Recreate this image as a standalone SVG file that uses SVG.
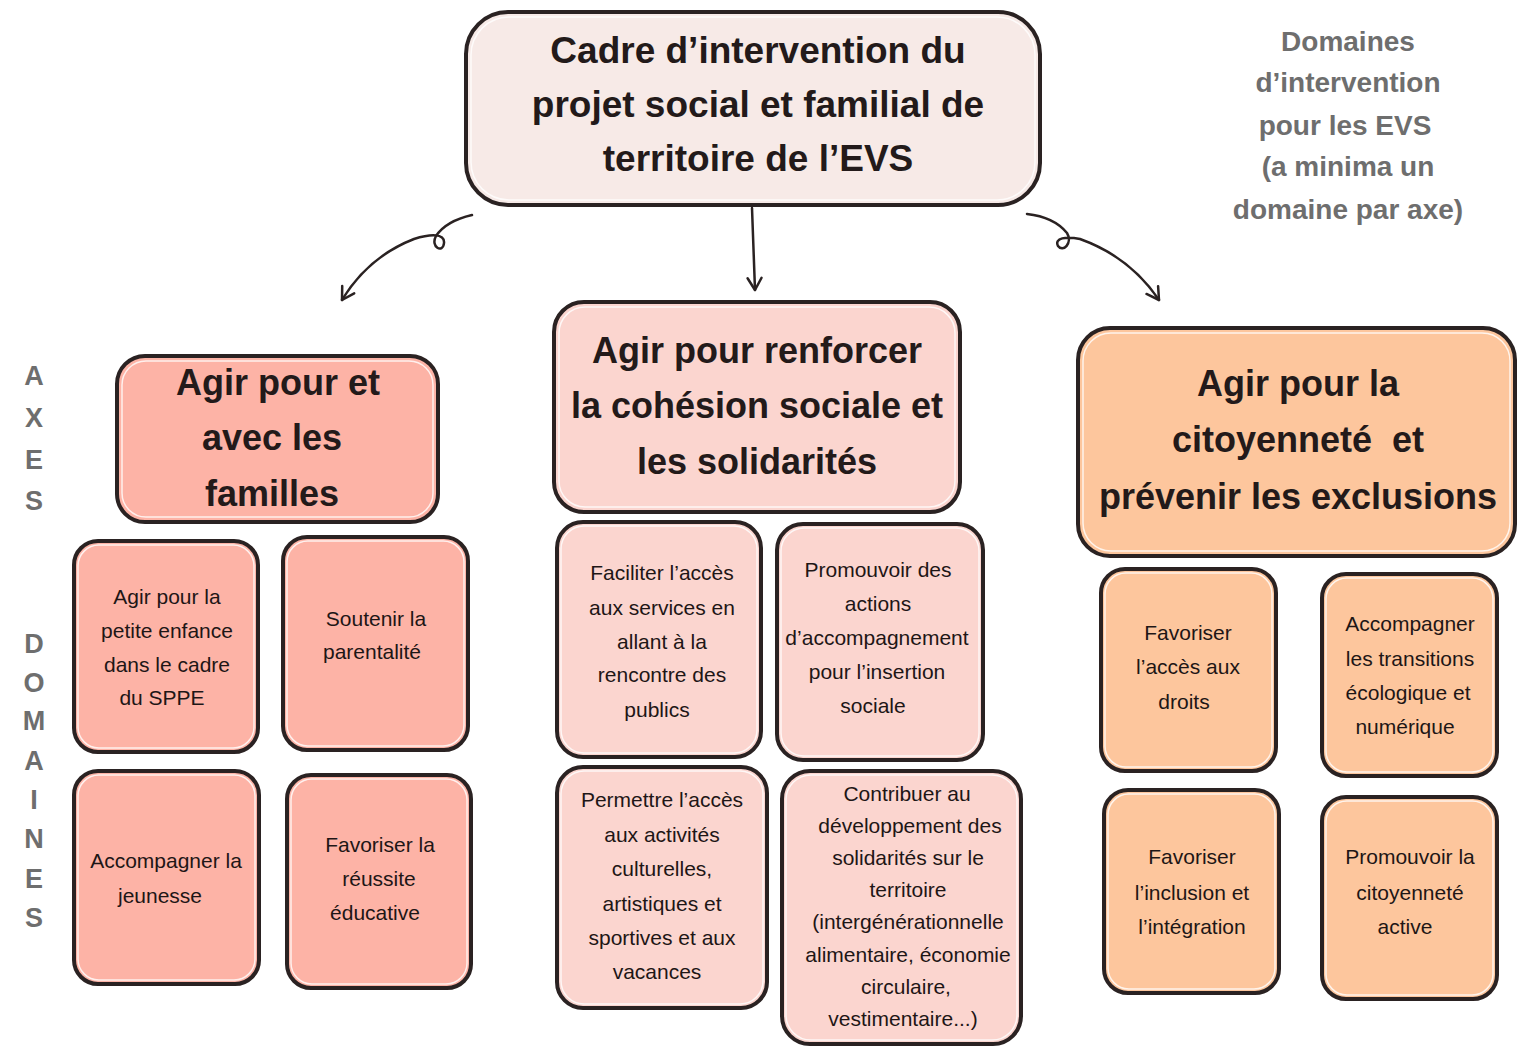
<svg xmlns="http://www.w3.org/2000/svg" width="1522" height="1046" viewBox="0 0 1522 1046">
<style>
.box{stroke:#2a2222;stroke-width:4}
.hl{fill:none;stroke:#ffffff;stroke-width:1.5;opacity:0.8}
.top{fill:#f7eae7}
.fam{fill:#fdb3a6}
.coh{fill:#fbd5cf}
.cit{fill:#fdc69d}
.h{font-family:"Liberation Sans",Arial,sans-serif;font-weight:bold;fill:#231a1a;text-anchor:middle}
.d{font-family:"Liberation Sans",Arial,sans-serif;fill:#1e1616;text-anchor:middle;font-size:21px}
.g{font-family:"Liberation Sans",Arial,sans-serif;font-weight:bold;fill:#6e6e6e;text-anchor:middle}
.conn{fill:none;stroke:#2a2222;stroke-width:2.5;stroke-linecap:round}
</style>
<defs>
<marker id="arr" viewBox="0 0 20 20" refX="16" refY="10" markerWidth="20" markerHeight="20" markerUnits="userSpaceOnUse" orient="auto">
<path d="M4,3 L16,10 L4,17" fill="none" stroke="#2a2222" stroke-width="2.5" stroke-linecap="round" stroke-linejoin="round"/>
</marker>
</defs>
<rect width="1522" height="1046" fill="#ffffff"/>

<g id="connectors">
<path class="conn" marker-end="url(#arr)" d="M472,215 Q446,221 436,236 C430,247 443,254 444,243 C445,233 430,234 414,239 Q368,257 342,300"/>
<path class="conn" marker-end="url(#arr)" d="M752,208 L755,290"/>
<path class="conn" marker-end="url(#arr)" d="M1027,214 Q1054,217 1067,233 C1073,243 1063,253 1058,246 C1054,238 1066,236 1080,239 Q1130,257 1159,300"/>
</g>

<g id="top">
<rect class="box top" x="466" y="12" width="574" height="193" rx="42"/>
<rect class="hl" x="471" y="17" width="564" height="183" rx="38"/>
<text class="h" font-size="37" x="758" y="63">Cadre d’intervention du</text>
<text class="h" font-size="37" x="758" y="117">projet social et familial de</text>
<text class="h" font-size="37" x="758" y="171">territoire de l’EVS</text>
</g>

<g id="note">
<text class="g" font-size="28" x="1348" y="51">Domaines</text>
<text class="g" font-size="28" x="1348" y="92">d’intervention</text>
<text class="g" font-size="28" x="1345" y="135">pour les EVS</text>
<text class="g" font-size="28" x="1348" y="176">(a minima un</text>
<text class="g" font-size="28" x="1348" y="219">domaine par axe)</text>
</g>

<g id="label-axes">
<text class="g" font-size="27" x="34" y="385">A</text>
<text class="g" font-size="27" x="34" y="427">X</text>
<text class="g" font-size="27" x="34" y="469">E</text>
<text class="g" font-size="27" x="34" y="510">S</text>
</g>
<g id="label-domaines">
<text class="g" font-size="27" x="34" y="653">D</text>
<text class="g" font-size="27" x="34" y="692">O</text>
<text class="g" font-size="27" x="34" y="730">M</text>
<text class="g" font-size="27" x="34" y="770">A</text>
<text class="g" font-size="27" x="34" y="809">I</text>
<text class="g" font-size="27" x="34" y="848">N</text>
<text class="g" font-size="27" x="34" y="888">E</text>
<text class="g" font-size="27" x="34" y="927">S</text>
</g>

<g id="axe-familles">
<rect class="box fam" x="117" y="356" width="321" height="166" rx="28"/>
<rect class="hl" x="122" y="361" width="311" height="156" rx="24"/>
<text class="h" font-size="36" x="278" y="395">Agir pour et</text>
<text class="h" font-size="36" x="272" y="450">avec les</text>
<text class="h" font-size="36" x="272" y="506">familles</text>
</g>

<g id="axe-cohesion">
<rect class="box coh" x="554" y="302" width="406" height="210" rx="30"/>
<rect class="hl" x="559" y="307" width="396" height="200" rx="26"/>
<text class="h" font-size="36" x="757" y="363">Agir pour renforcer</text>
<text class="h" font-size="36" x="757" y="418">la cohésion sociale et</text>
<text class="h" font-size="36" x="757" y="474">les solidarités</text>
</g>

<g id="axe-citoyennete">
<rect class="box cit" x="1078" y="328" width="437" height="228" rx="32"/>
<rect class="hl" x="1083" y="333" width="427" height="218" rx="28"/>
<text class="h" font-size="36" x="1298" y="396">Agir pour la</text>
<text class="h" font-size="36" x="1298" y="452" style="white-space:pre">citoyenneté  et</text>
<text class="h" font-size="36" x="1298" y="509">prévenir les exclusions</text>
</g>

<g id="dom-petite-enfance">
<rect class="box fam" x="74" y="541" width="184" height="211" rx="24"/>
<rect class="hl" x="78" y="545" width="176" height="203" rx="21"/>
<text class="d" x="167" y="604">Agir pour la</text>
<text class="d" x="167" y="638">petite enfance</text>
<text class="d" x="167" y="672">dans le cadre</text>
<text class="d" x="162" y="705">du SPPE</text>
</g>
<g id="dom-parentalite">
<rect class="box fam" x="283" y="537" width="185" height="213" rx="24"/>
<rect class="hl" x="287" y="541" width="177" height="205" rx="21"/>
<text class="d" x="376" y="626">Soutenir la</text>
<text class="d" x="372" y="659">parentalité</text>
</g>
<g id="dom-jeunesse">
<rect class="box fam" x="74" y="771" width="185" height="213" rx="24"/>
<rect class="hl" x="78" y="775" width="177" height="205" rx="21"/>
<text class="d" x="166" y="868">Accompagner la</text>
<text class="d" x="160" y="903">jeunesse</text>
</g>
<g id="dom-reussite">
<rect class="box fam" x="287" y="775" width="184" height="213" rx="24"/>
<rect class="hl" x="291" y="779" width="176" height="205" rx="21"/>
<text class="d" x="380" y="852">Favoriser la</text>
<text class="d" x="379" y="886">réussite</text>
<text class="d" x="375" y="920">éducative</text>
</g>

<g id="dom-services">
<rect class="box coh" x="557" y="522" width="204" height="235" rx="26"/>
<rect class="hl" x="561" y="526" width="196" height="227" rx="23"/>
<text class="d" x="662" y="580">Faciliter l’accès</text>
<text class="d" x="662" y="615">aux services en</text>
<text class="d" x="662" y="649">allant à la</text>
<text class="d" x="662" y="682">rencontre des</text>
<text class="d" x="657" y="717">publics</text>
</g>
<g id="dom-insertion">
<rect class="box coh" x="777" y="524" width="206" height="236" rx="26"/>
<rect class="hl" x="781" y="528" width="198" height="228" rx="23"/>
<text class="d" x="878" y="577">Promouvoir des</text>
<text class="d" x="878" y="611">actions</text>
<text class="d" x="877" y="645">d’accompagnement</text>
<text class="d" x="877" y="679">pour l’insertion</text>
<text class="d" x="873" y="713">sociale</text>
</g>
<g id="dom-activites">
<rect class="box coh" x="557" y="767" width="210" height="241" rx="26"/>
<rect class="hl" x="561" y="771" width="202" height="233" rx="23"/>
<text class="d" x="662" y="807">Permettre l’accès</text>
<text class="d" x="662" y="842">aux activités</text>
<text class="d" x="662" y="876">culturelles,</text>
<text class="d" x="662" y="911">artistiques et</text>
<text class="d" x="662" y="945">sportives et aux</text>
<text class="d" x="657" y="979">vacances</text>
</g>
<g id="dom-solidarites">
<rect class="box coh" x="782" y="771" width="239" height="273" rx="28"/>
<rect class="hl" x="786" y="775" width="231" height="265" rx="25"/>
<text class="d" font-size="19.5" x="907" y="801">Contribuer au</text>
<text class="d" font-size="19.5" x="910" y="833">développement des</text>
<text class="d" font-size="19.5" x="908" y="865">solidarités sur le</text>
<text class="d" font-size="19.5" x="908" y="897">territoire</text>
<text class="d" font-size="19.5" x="908" y="929">(intergénérationnelle</text>
<text class="d" font-size="19.5" x="908" y="962">alimentaire, économie</text>
<text class="d" font-size="19.5" x="906" y="994">circulaire,</text>
<text class="d" font-size="19.5" x="903" y="1026">vestimentaire...)</text>
</g>

<g id="dom-droits">
<rect class="box cit" x="1101" y="569" width="175" height="202" rx="24"/>
<rect class="hl" x="1105" y="573" width="167" height="194" rx="21"/>
<text class="d" x="1188" y="640">Favoriser</text>
<text class="d" x="1188" y="674">l’accès aux</text>
<text class="d" x="1184" y="709">droits</text>
</g>
<g id="dom-transitions">
<rect class="box cit" x="1322" y="574" width="175" height="202" rx="24"/>
<rect class="hl" x="1326" y="578" width="167" height="194" rx="21"/>
<text class="d" x="1410" y="631">Accompagner</text>
<text class="d" x="1410" y="666">les transitions</text>
<text class="d" x="1408" y="700">écologique et</text>
<text class="d" x="1405" y="734">numérique</text>
</g>
<g id="dom-inclusion">
<rect class="box cit" x="1104" y="790" width="175" height="203" rx="24"/>
<rect class="hl" x="1108" y="794" width="167" height="195" rx="21"/>
<text class="d" x="1192" y="864">Favoriser</text>
<text class="d" x="1192" y="900">l’inclusion et</text>
<text class="d" x="1192" y="934">l’intégration</text>
</g>
<g id="dom-citoyennete-active">
<rect class="box cit" x="1322" y="797" width="175" height="202" rx="24"/>
<rect class="hl" x="1326" y="801" width="167" height="194" rx="21"/>
<text class="d" x="1410" y="864">Promouvoir la</text>
<text class="d" x="1410" y="900">citoyenneté</text>
<text class="d" x="1405" y="934">active</text>
</g>
</svg>
